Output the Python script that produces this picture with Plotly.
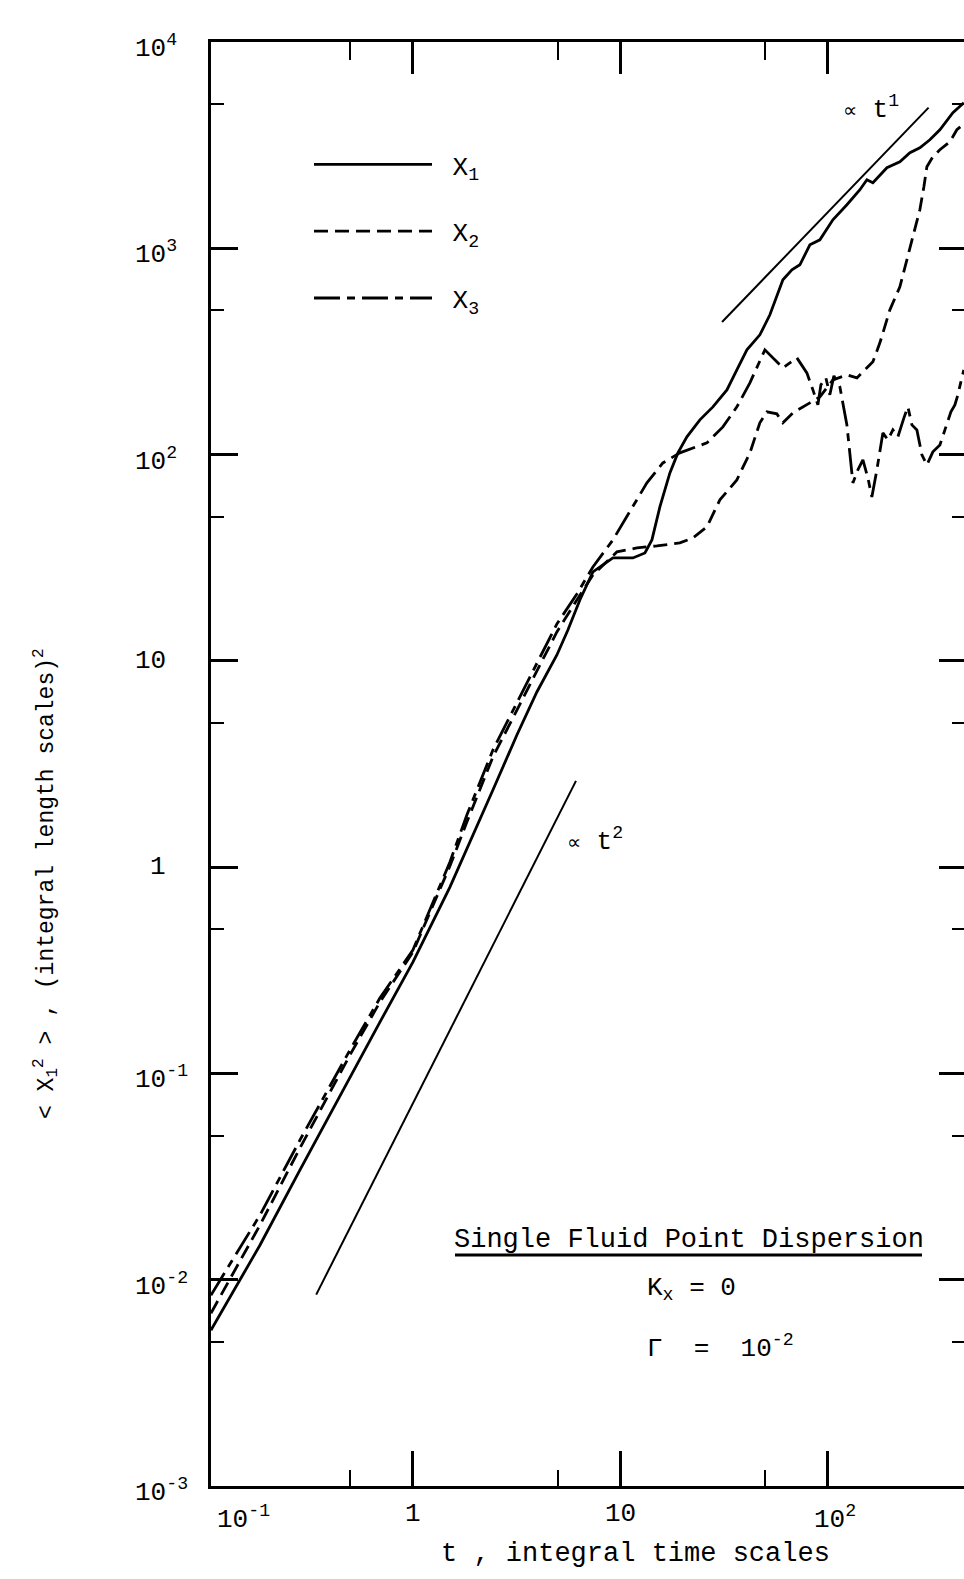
import math
import plotly.graph_objects as go

FONT = "Liberation Mono"

# ---------------- data ----------------
t_x1 = [0.1063, 0.1831, 0.2853, 0.497, 0.6934, 1.0, 1.508, 2.43, 3.171, 3.958, 4.943, 5.585,
        6.378, 7.371, 9.204, 11.49, 13.13, 14.19, 15.5, 17.32, 18.93, 20.92, 24.16, 27.92,
        32.61, 36.42, 40.71, 47.01, 52.54, 60.7, 67.08, 73.3, 81.9, 91.49, 105.7, 123.5,
        142.7, 154.2, 164.8, 192.5, 222.3, 248.5, 277.5, 310.1, 346.6, 400.3, 452.2]
y_x1 = [0.00569, 0.01469, 0.034, 0.0959, 0.1773, 0.3465, 0.8004, 2.365, 4.372, 7.066, 10.68,
        14.12, 19.74, 26.99, 31.55, 31.55, 33.36, 38.58, 55.76, 81.5, 101.9, 121.9, 147.3,
        170.3, 205.9, 257.4, 321.9, 380.6, 475.9, 703.6, 786.6, 831.7, 1039, 1099, 1375,
        1625, 1922, 2149, 2078, 2457, 2627, 2905, 3072, 3359, 3755, 4541, 5077]

t_x2 = [0.1063, 0.1831, 0.2853, 0.497, 0.6934, 1.0, 1.508, 1.82, 2.43, 3.171, 3.958, 4.943,
        6.17, 7.371, 9.618, 12.01, 14.99, 19.35, 22.36, 26.12, 30.17, 36.42, 42.09, 47.01,
        50.82, 56.78, 60.7, 67.83, 81.9, 91.49, 105.7, 123.5, 138.0, 164.8, 178.1, 199.0,
        222.3, 240.3, 256.8, 277.5, 290.2, 300.0, 320.6, 346.6, 387.3, 418.4, 452.2]
y_x2 = [0.006879, 0.01837, 0.04342, 0.1227, 0.2217, 0.3876, 1.012, 1.654, 3.42, 5.777, 8.933,
        13.81, 19.74, 26.09, 33.74, 35.28, 36.08, 37.3, 39.45, 44.6, 60.3, 75.4, 101.9, 142.5,
        161.1, 157.5, 142.5, 159.3, 178.1, 190.5, 230.2, 243.4, 235.4, 281.5, 348.0, 503.1,
        650.6, 879.5, 1137, 1537, 1987, 2485, 2778, 3003, 3284, 3755, 4015]

t_x3 = [0.1063, 0.1831, 0.2853, 0.497, 0.6934, 1.0, 1.508, 1.82, 2.43, 3.171, 3.958, 4.943,
        6.17, 7.371, 9.204, 12.01, 13.42, 16.02, 19.35, 26.12, 31.19, 36.42, 42.09, 49.71,
        55.53, 60.7, 70.89, 79.2, 84.68, 89.51, 92.53, 97.8, 102.2, 106.9, 114.2, 123.5,
        132.0, 139.5, 147.5, 155.9, 162.9, 172.2, 184.1, 194.6, 205.7, 217.5, 232.5, 243.0,
        254.1, 268.5, 283.8, 300.0, 320.6, 346.6, 366.4, 378.8, 391.6, 409.3, 423.1, 437.5,
        452.2]
y_x3 = [0.00841, 0.02055, 0.04748, 0.1297, 0.2318, 0.3963, 1.058, 1.789, 3.698, 6.247, 9.765,
        15.1, 21.1, 28.53, 38.58, 60.3, 72.9, 91.1, 101.9, 113.9, 136.2, 170.3, 222.6, 321.9,
        287.9, 263.3, 294.4, 248.9, 205.9, 174.2, 217.8, 235.4, 194.8, 240.7, 213.0, 139.3,
        72.9, 84.3, 94.3, 77.1, 62.3, 84.3, 127.4, 117.8, 131.7, 121.9, 150.6, 170.3, 139.3,
        131.7, 99.7, 89.1, 103.1, 111.4, 131.7, 144.1, 161.1, 174.2, 194.8, 225.1, 257.4]

# slope guide lines (end points)
guide1_t = [30.9, 305.7]
guide1_y = [439, 4808]
guide2_t = [0.342, 6.11]
guide2_y = [0.00847, 2.62]

series_names = [" X<sub>1</sub>", " X<sub>2</sub>", " X<sub>3</sub>"]

x_tick_vals = [0.1, 1, 10, 100]
x_tick_text = ["10<sup>-1</sup>", "1", "10", "10<sup>2</sup>"]
x_minor_vals = [0.5, 5, 50]
y_tick_vals = [1e-3, 1e-2, 1e-1, 1, 10, 100, 1e3, 1e4]
y_tick_text = ["10<sup>-3</sup>", "10<sup>-2</sup>", "10<sup>-1</sup>", "1", "10",
               "10<sup>2</sup>", "10<sup>3</sup>", "10<sup>4</sup>"]
y_minor_vals = [5e-3, 5e-2, 0.5, 5, 50, 500, 5e3]

X_RANGE = [-0.973, 2.656]
Y_RANGE = [-3, 4]

# ---------------- figure ----------------
fig = go.Figure()

styles = [dict(dash="solid"), dict(dash="14px,7px"), dict(dash="26px,7px,8px,7px")]
for i, (tt, yy) in enumerate([(t_x1, y_x1), (t_x2, y_x2), (t_x3, y_x3)]):
    fig.add_trace(go.Scatter(
        x=tt, y=yy, mode="lines", name=series_names[i], legendgroup=f"g{i}",
        line=dict(color="black", width=2.8, **styles[i]),
    ))

fig.add_trace(go.Scatter(x=guide1_t, y=guide1_y, mode="lines", showlegend=False,
                         line=dict(color="black", width=2), xaxis="x2", yaxis="y2"))
fig.add_trace(go.Scatter(x=guide2_t, y=guide2_y, mode="lines", showlegend=False,
                         line=dict(color="black", width=2)))

W, H = 964, 1579
ML, MR, MT, MB = 211, 0, 42, 93
PW, PH = W - ML - MR, H - MT - MB


def px(xp):
    return (xp - ML) / PW


def py(yp):
    return (H - MB - yp) / PH


common = dict(type="log", showgrid=False, zeroline=False, showticklabels=False,
              linecolor="black", ticks="inside", tickcolor="black", tickmode="array")

fig.update_layout(
    width=W, height=H,
    margin=dict(l=ML, r=MR, t=MT, b=MB, pad=0),
    paper_bgcolor="white", plot_bgcolor="white",
    font=dict(family=FONT, size=26, color="black"),
    xaxis=dict(**common, range=X_RANGE, showline=True, linewidth=3,
               tickvals=x_tick_vals, ticklen=35, tickwidth=2.5,
               minor=dict(tickmode="array", tickvals=x_minor_vals, ticks="inside",
                          ticklen=16, tickwidth=2, tickcolor="black", showgrid=False)),
    xaxis2=dict(**common, range=X_RANGE, overlaying="x", side="top", anchor="y2",
                showline=True, linewidth=3, tickvals=x_tick_vals, ticklen=32, tickwidth=2.5,
                minor=dict(tickmode="array", tickvals=x_minor_vals, ticks="inside",
                           ticklen=18, tickwidth=2, tickcolor="black", showgrid=False)),
    yaxis=dict(**common, range=Y_RANGE, showline=True, linewidth=3,
               tickvals=y_tick_vals, ticklen=27, tickwidth=2.5,
               minor=dict(tickmode="array", tickvals=y_minor_vals, ticks="inside",
                          ticklen=13, tickwidth=2, tickcolor="black", showgrid=False)),
    yaxis2=dict(**common, range=Y_RANGE, overlaying="y", side="right", anchor="x2",
                showline=False, tickvals=y_tick_vals, ticklen=25, tickwidth=2.5,
                minor=dict(tickmode="array", tickvals=y_minor_vals, ticks="inside",
                           ticklen=12, tickwidth=2, tickcolor="black", showgrid=False)),
    legend=dict(x=px(309), y=py(141), xanchor="left", yanchor="top",
                bgcolor="rgba(0,0,0,0)", borderwidth=0,
                font=dict(family=FONT, size=26, color="black"),
                itemwidth=118, tracegroupgap=30, traceorder="grouped"),
    showlegend=True,
)

ann = []
# x tick labels
for v, txt in zip(x_tick_vals, x_tick_text):
    lv = max(math.log10(v), X_RANGE[0])
    if "<sup>" in txt:
        shift = 4 if math.log10(v) < X_RANGE[0] else -16
        ann.append(dict(x=lv, y=py(1514), xref="x", yref="paper", text=txt, showarrow=False,
                        xanchor="left", yanchor="middle", xshift=shift, yshift=-4))
    else:
        ann.append(dict(x=lv, y=py(1514), xref="x", yref="paper", text=txt, showarrow=False,
                        xanchor="center", yanchor="middle"))
# y tick labels (base digits right-aligned)
for v, txt in zip(y_tick_vals, y_tick_text):
    base = txt.split("<sup>")[0]
    left = 164 - 15.6 * len(base)
    ann.append(dict(x=px(left), y=math.log10(v), xref="paper", yref="y", text=txt,
                    showarrow=False, xanchor="left", yanchor="middle",
                    yshift=(-5 if "<sup>" in txt else 0)))

# axis titles
ann.append(dict(x=px(635), y=py(1554), xref="paper", yref="paper",
                text="t , integral time scales", showarrow=False,
                xanchor="center", yanchor="middle", font=dict(size=27)))
ann.append(dict(x=px(46), y=py(884), xref="paper", yref="paper", textangle=-90,
                text="&lt; X<sub>1</sub><sup>2</sup> &gt; , (integral length scales)<sup>2</sup>",
                showarrow=False, xanchor="center", yanchor="middle", font=dict(size=23)))

# in-plot texts
ann.append(dict(x=px(841), y=py(108), xref="paper", yref="paper",
                text="<span style='font-size:20px'>∝</span> t<sup>1</sup>",
                showarrow=False, xanchor="left", yanchor="middle"))
ann.append(dict(x=px(565), y=py(840), xref="paper", yref="paper",
                text="<span style='font-size:20px'>∝</span> t<sup>2</sup>",
                showarrow=False, xanchor="left", yanchor="middle"))
ann.append(dict(x=px(689), y=py(1240), xref="paper", yref="paper",
                text="Single Fluid Point Dispersion", showarrow=False,
                xanchor="center", yanchor="middle", font=dict(size=27)))
ann.append(dict(x=px(645), y=py(1289), xref="paper", yref="paper",
                text="K<sub>x</sub> = 0", showarrow=False, xanchor="left", yanchor="middle"))
ann.append(dict(x=px(645), y=py(1347), xref="paper", yref="paper",
                text="Γ  =  10<sup>-2</sup>", showarrow=False, xanchor="left", yanchor="middle"))

fig.update_layout(
    annotations=ann,
    shapes=[dict(type="line", xref="paper", yref="paper", x0=px(455), x1=px(922),
                 y0=py(1255), y1=py(1255), line=dict(color="black", width=3))],
)

fig.write_html(
    "out.html",
    config={"displayModeBar": False},
    post_script="document.body.style.margin='0';document.body.style.overflow='hidden';",
)
